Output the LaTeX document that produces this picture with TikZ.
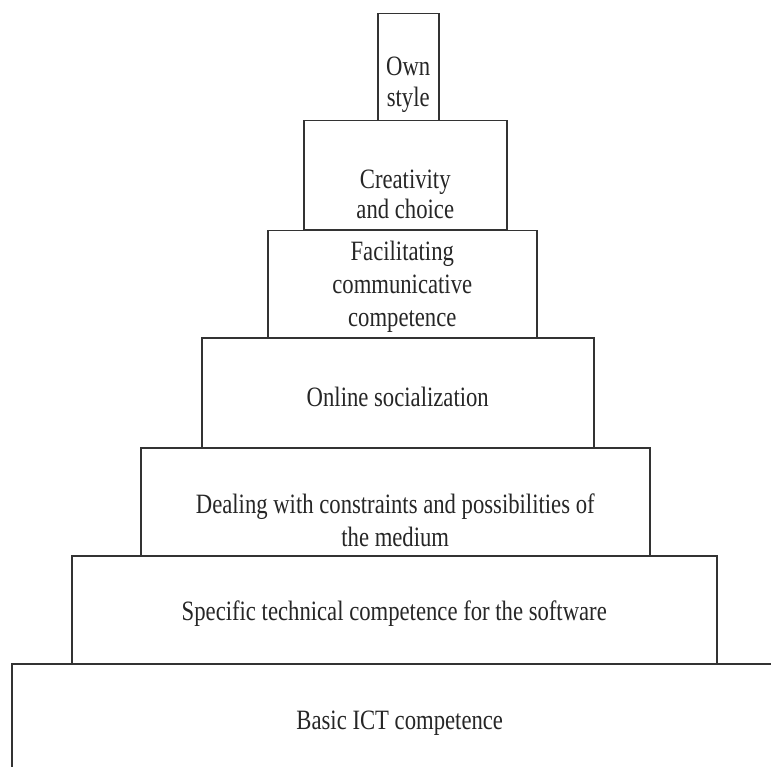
\documentclass[tikz,border=0pt]{standalone}
\usepackage{fontspec}
\setmainfont[FakeStretch=0.81]{Liberation Serif}
\begin{document}
\begin{tikzpicture}[x=1pt,y=-1pt,
  tier/.style={draw=black!80, line width=1.5pt, fill=white, inner sep=0pt, anchor=north west},
  lbl/.style={align=center, inner sep=0pt, text=black!85, font=\fontsize{28}{33}\selectfont}]
\useasboundingbox (0,0) rectangle (771,767);
\clip (0,0) rectangle (771,767);
% boxes: (left,top), width, height
\node[tier, minimum width=776pt, minimum height=108pt] (b1) at (11,663) {};
\node[tier, minimum width=645pt, minimum height=108pt] (b2) at (71,555) {};
\node[tier, minimum width=509pt, minimum height=108pt] (b3) at (140,447) {};
\node[tier, minimum width=392pt, minimum height=110pt] (b4) at (201,337) {};
\node[tier, minimum width=269pt, minimum height=107pt] (b5) at (267,230) {};
\node[tier, minimum width=203pt, minimum height=109pt] (b6) at (303,120) {};
\node[tier, minimum width=61pt, minimum height=107pt] (b7) at (377,13) {};
% labels
\node[lbl] (t1) at ([yshift=-5pt]b1.center) {Basic ICT competence};
\node[lbl] (t2) at ([yshift=-4pt]b2.center) {Specific technical competence for the software};
\node[lbl] (t3) at ([yshift=-19pt]b3.center) {Dealing with constraints and possibilities of\\the medium};
\node[lbl] (t4) at ([yshift=-4pt]b4.center) {Online socialization};
\node[lbl] (t5) at ([yshift=-3pt]b5.center) {Facilitating\\communicative\\competence};
\node[lbl, font=\fontsize{28}{30}\selectfont] (t6) at ([yshift=-19pt]b6.center) {Creativity\\and choice};
\node[lbl, font=\fontsize{28}{31}\selectfont] (t7) at ([yshift=-18pt]b7.center) {Own\\style};
\end{tikzpicture}
\end{document}
